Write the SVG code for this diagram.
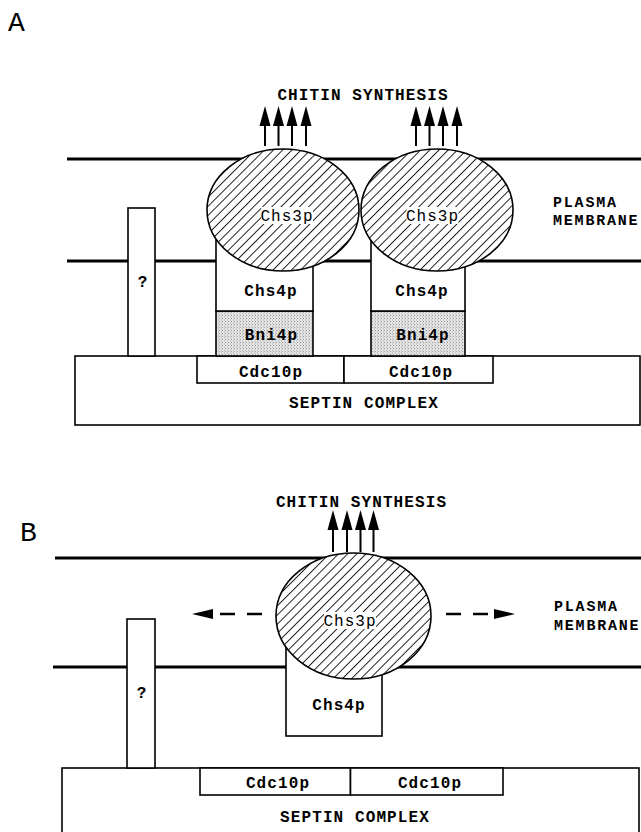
<svg xmlns="http://www.w3.org/2000/svg" width="641" height="832" viewBox="0 0 641 832">
<style>
text{font-family:"Liberation Mono","Courier New",monospace;fill:#000}
.lbl{font-size:16px;font-weight:bold;letter-spacing:1.1px;text-anchor:middle}
.reg{font-size:16px;font-weight:normal;letter-spacing:1px;text-anchor:middle}
.pm{font-size:15px;font-weight:bold;letter-spacing:1.8px}
.panel{font-size:28px;font-weight:normal}
.mem{stroke:#000;stroke-width:3;fill:none}
.box{fill:#fff;stroke:#000;stroke-width:1.6}
.bni{fill:url(#stip);stroke:#000;stroke-width:1.6}
.chs3{fill:url(#hatch);stroke:#000;stroke-width:1.6}
.tbg{fill:#fff;stroke:none}
.arr{stroke:#000;stroke-width:2;fill:none;marker-end:url(#head)}
.dash{stroke:#000;stroke-width:2.5;fill:none;stroke-dasharray:15 12;marker-end:url(#dhead)}
</style>
<defs>
<pattern id="hatch" patternUnits="userSpaceOnUse" width="6.5" height="10" patternTransform="rotate(45)">
<rect width="6.5" height="10" fill="#fff"/>
<line x1="0.5" y1="0" x2="0.5" y2="10" stroke="#000" stroke-width="0.9"/>
</pattern>
<pattern id="stip" patternUnits="userSpaceOnUse" width="3" height="3">
<rect width="3" height="3" fill="#e4e4e4"/>
<rect x="0" y="0" width="1" height="1" fill="#999"/>
<rect x="2" y="1.5" width="1" height="1" fill="#b0b0b0"/>
</pattern>
<marker id="head" markerUnits="userSpaceOnUse" markerWidth="21" markerHeight="12" refX="0" refY="6" orient="auto">
<path d="M0,0.5 L20,6 L0,11.5 z" fill="#000"/>
</marker>
<marker id="dhead" markerUnits="userSpaceOnUse" markerWidth="22" markerHeight="12" refX="0" refY="6" orient="auto">
<path d="M0,1 L21,6 L0,11 z" fill="#000"/>
</marker>
</defs>
<rect width="641" height="832" fill="#fff"/>

<!-- Panel A -->
<g id="panelA">
<text class="panel" x="8" y="31">A</text>
<g id="A-membrane">
<line class="mem" x1="67" y1="159" x2="641" y2="159"/>
<line class="mem" x1="67" y1="261" x2="641" y2="261"/>
<text class="pm" x="553" y="207">PLASMA</text>
<text class="pm" x="553" y="225">MEMBRANE</text>
</g>
<g id="A-septin">
<rect class="box" x="75" y="356" width="565" height="69" stroke-width="2"/>
<text class="lbl" x="364" y="408">SEPTIN COMPLEX</text>
</g>
<g id="A-unknown">
<rect class="box" x="128" y="208" width="27" height="148" stroke-width="2"/>
<text class="lbl" x="143" y="287" letter-spacing="0">?</text>
</g>
<g id="A-cdc10-1">
<rect class="box" x="197" y="356" width="147" height="27"/>
<text class="lbl" x="271" y="376.5">Cdc10p</text>
</g>
<g id="A-cdc10-2">
<rect class="box" x="344" y="356" width="149" height="27"/>
<text class="lbl" x="421" y="376.5">Cdc10p</text>
</g>
<g id="A-bni4-1">
<rect class="bni" x="216" y="311" width="97" height="45"/>
<text class="lbl" x="271.5" y="340">Bni4p</text>
</g>
<g id="A-bni4-2">
<rect class="bni" x="371" y="311" width="94" height="45"/>
<text class="lbl" x="423" y="340">Bni4p</text>
</g>
<g id="A-chs4-1">
<rect class="box" x="216" y="240" width="97" height="71"/>
<text class="lbl" x="271" y="296">Chs4p</text>
</g>
<g id="A-chs4-2">
<rect class="box" x="371" y="240" width="94" height="71"/>
<text class="lbl" x="422" y="296">Chs4p</text>
</g>
<g id="A-chs3-1">
<ellipse class="chs3" cx="283" cy="210" rx="76" ry="61"/>
<rect class="tbg" x="261" y="207" width="52" height="17"/>
<text class="reg" x="287" y="221">Chs3p</text>
</g>
<g id="A-chs3-2">
<ellipse class="chs3" cx="437" cy="210" rx="76" ry="61"/>
<rect class="tbg" x="406.5" y="207" width="52" height="17"/>
<text class="reg" x="432.5" y="221">Chs3p</text>
</g>
<g id="A-chitin">
<text class="lbl" x="363" y="100">CHITIN SYNTHESIS</text>
</g>
</g>

<!-- Panel B -->
<g id="panelB">
<text class="panel" x="20" y="541">B</text>
<g id="B-membrane">
<line class="mem" x1="55" y1="558" x2="641" y2="558"/>
<line class="mem" x1="53" y1="667" x2="641" y2="667"/>
<text class="pm" x="554" y="611">PLASMA</text>
<text class="pm" x="554" y="630">MEMBRANE</text>
</g>
<g id="B-septin">
<rect class="box" x="62" y="768" width="577" height="80" stroke-width="2"/>
<text class="lbl" x="355" y="822">SEPTIN COMPLEX</text>
</g>
<g id="B-unknown">
<rect class="box" x="127" y="619" width="28" height="149" stroke-width="2"/>
<text class="lbl" x="142" y="698" letter-spacing="0">?</text>
</g>
<g id="B-cdc10-1">
<rect class="box" x="200" y="768" width="150.5" height="27"/>
<text class="lbl" x="278" y="787.5">Cdc10p</text>
</g>
<g id="B-cdc10-2">
<rect class="box" x="350.5" y="768" width="152.5" height="27"/>
<text class="lbl" x="430" y="787.5">Cdc10p</text>
</g>
<g id="B-chs4">
<rect class="box" x="286" y="640" width="96" height="96"/>
<text class="lbl" x="339" y="710">Chs4p</text>
</g>
<g id="B-chs3">
<ellipse class="chs3" cx="353.5" cy="616" rx="77.5" ry="63"/>
<rect class="tbg" x="324" y="612" width="52" height="17"/>
<text class="reg" x="350" y="626">Chs3p</text>
</g>
<g id="B-chitin">
<text class="lbl" x="361.5" y="507">CHITIN SYNTHESIS</text>
</g>
</g>

<g id="connectors">
<line class="arr" x1="265" y1="146" x2="265" y2="126"/>
<line class="arr" x1="278.5" y1="146" x2="278.5" y2="126"/>
<line class="arr" x1="292" y1="146" x2="292" y2="126"/>
<line class="arr" x1="306" y1="146" x2="306" y2="126"/>
<line class="arr" x1="416" y1="146" x2="416" y2="126"/>
<line class="arr" x1="429.5" y1="146" x2="429.5" y2="126"/>
<line class="arr" x1="443" y1="146" x2="443" y2="126"/>
<line class="arr" x1="457" y1="146" x2="457" y2="126"/>
<line class="arr" x1="333" y1="552" x2="333" y2="530"/>
<line class="arr" x1="347" y1="552" x2="347" y2="530"/>
<line class="arr" x1="360.5" y1="552" x2="360.5" y2="530"/>
<line class="arr" x1="373.5" y1="552" x2="373.5" y2="530"/>
<line class="dash" x1="262" y1="614" x2="213" y2="614"/>
<line class="dash" x1="446" y1="614" x2="494" y2="614"/>
</g>
</svg>
